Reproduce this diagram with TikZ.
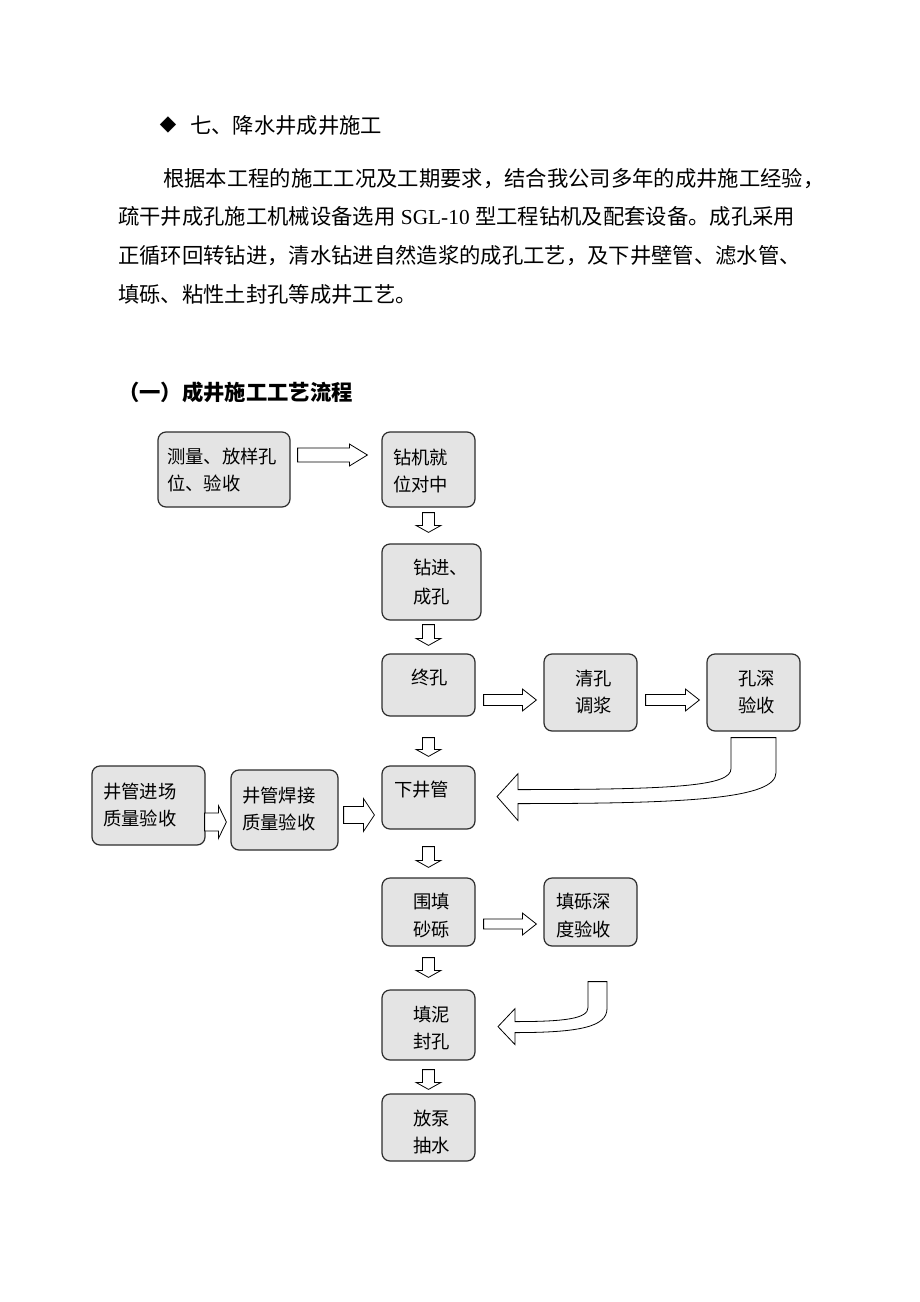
\documentclass[tikz,border=0pt]{standalone}
\usepackage{fontspec}
\setmainfont{Noto Sans CJK SC}
\newfontfamily\latserif{Liberation Serif}
\newfontfamily\dejavu{DejaVu Sans}
\usetikzlibrary{calc,fit}
\definecolor{boxfill}{RGB}{228,228,228}
\definecolor{boxline}{RGB}{45,45,45}
\tikzset{
  box/.style={draw=boxline, fill=boxfill, line width=0.9pt, rounded corners=6pt, inner sep=0pt},
  btxt/.style={anchor=west, inner sep=0pt, font=\fontsize{13.75pt}{16pt}\selectfont, text height=12.1pt, text depth=1.65pt},
  para/.style={anchor=west, inner sep=0pt, font=\fontsize{16pt}{20pt}\selectfont, text height=14.08pt, text depth=1.92pt},
  barrow/.style={draw=black, fill=white, line width=0.6pt, line join=miter},
}
\newcommand\harr[5]{\draw[barrow] ($(#1)+(0,-#3)$) -- ($(#2)+(-#5,-#3)$) -- ($(#2)+(-#5,-#4)$) -- (#2) -- ($(#2)+(-#5,#4)$) -- ($(#2)+(-#5,#3)$) -- ($(#1)+(0,#3)$) -- cycle;}
\newcommand\varr[5]{\draw[barrow] ($(#1)+(-#3,0)$) -- ($(#2)+(-#3,-#5)$) -- ($(#2)+(-#4,-#5)$) -- (#2) -- ($(#2)+(#4,-#5)$) -- ($(#2)+(#3,-#5)$) -- ($(#1)+(#3,0)$) -- cycle;}
\begin{document}
\begin{tikzpicture}[x=0.75pt,y=-0.75pt]
\useasboundingbox (0,0) rectangle (920,1302);
\fill[white] (0,0) rectangle (920,1302);

% header and paragraph
\node[anchor=center, inner sep=0pt, font=\dejavu\fontsize{16pt}{18pt}\selectfont] (dia) at (168,125) {◆};
\node[para] (h1) at (190,125) {七、降水井成井施工};
\node[para] (p1) at (163,178) {根据本工程的施工工况及工期要求，结合我公司多年的成井施工经验，};
\node[para] (p2) at (118,216) {疏干井成孔施工机械设备选用{\latserif\ SGL-10\ }型工程钻机及配套设备。成孔采用};
\node[para] (p3) at (118,255) {正循环回转钻进，清水钻进自然造浆的成孔工艺，及下井壁管、滤水管、};
\node[para] (p4) at (118,294) {填砾、粘性土封孔等成井工艺。};
\node[para, font=\fontsize{16pt}{20pt}\selectfont\bfseries] (title) at (118,392) {（一）成井施工工艺流程};

% boxes
\node[box, fit={(158,432) (290,507)}] (b1) {};
\node[box, fit={(382,432) (475,507)}] (b2) {};
\node[box, fit={(382,544) (481,620)}] (b3) {};
\node[box, fit={(382,654) (475,716)}] (b4) {};
\node[box, fit={(544,654) (637,731)}] (b5) {};
\node[box, fit={(707,654) (800,731)}] (b6) {};
\node[box, fit={(382,766) (475,829)}] (b7) {};
\node[box, fit={(92,766) (205,845)}] (b8) {};
\node[box, fit={(231,770) (338,850)}] (b9) {};
\node[box, fit={(382,878) (475,946)}] (b10) {};
\node[box, fit={(544,878) (637,946)}] (b11) {};
\node[box, fit={(382,990) (475,1060)}] (b12) {};
\node[box, fit={(382,1094) (475,1161)}] (b13) {};

% box texts
\node[btxt] (t1a) at (167,457) {测量、放样孔};
\node[btxt] (t1b) at (167,484) {位、验收};
\node[btxt] (t2a) at (393,458) {钻机就};
\node[btxt] (t2b) at (393,485) {位对中};
\node[btxt] (t3a) at (413,568) {钻进、};
\node[btxt] (t3b) at (413,597) {成孔};
\node[btxt] (t4a) at (411,678) {终孔};
\node[btxt] (t5a) at (575,679) {清孔};
\node[btxt] (t5b) at (575,706) {调浆};
\node[btxt] (t6a) at (738,679) {孔深};
\node[btxt] (t6b) at (738,706) {验收};
\node[btxt] (t7a) at (394,790) {下井管};
\node[btxt] (t8a) at (103,792) {井管进场};
\node[btxt] (t8b) at (103,819) {质量验收};
\node[btxt] (t9a) at (242,796) {井管焊接};
\node[btxt] (t9b) at (242,823) {质量验收};
\node[btxt] (t10a) at (413,902) {围填};
\node[btxt] (t10b) at (413,930) {砂砾};
\node[btxt] (t11a) at (556,902) {填砾深};
\node[btxt] (t11b) at (556,930) {度验收};
\node[btxt] (t12a) at (413,1015) {填泥};
\node[btxt] (t12b) at (413,1042) {封孔};
\node[btxt] (t13a) at (413,1119) {放泵};
\node[btxt] (t13b) at (413,1146) {抽水};

% horizontal block arrows
\coordinate (h1s) at ($(b1.east |- 0,455)+(7,0)$);
\coordinate (h1t) at ($(b2.west |- 0,455)+(-14,0)$);
\harr{h1s}{h1t}{7}{11}{18}
\coordinate (h2s) at ($(b4.east |- 0,700)+(8,0)$);
\coordinate (h2t) at ($(b5.west |- 0,700)+(-7,0)$);
\harr{h2s}{h2t}{5.5}{11}{14}
\coordinate (h3s) at ($(b5.east |- 0,700)+(8,0)$);
\coordinate (h3t) at ($(b6.west |- 0,700)+(-7,0)$);
\harr{h3s}{h3t}{5.5}{11}{14}
\coordinate (h4s) at ($(b8.east |- 0,822)+(-1,0)$);
\coordinate (h4t) at ($(b9.west |- 0,822)+(-4,0)$);
\harr{h4s}{h4t}{9}{16.5}{8}
\coordinate (h5s) at ($(b9.east |- 0,815)+(5,0)$);
\coordinate (h5t) at ($(b7.west |- 0,815)+(-7,0)$);
\harr{h5s}{h5t}{8.5}{16.5}{11}
\coordinate (h6s) at ($(b10.east |- 0,924)+(8,0)$);
\coordinate (h6t) at ($(b11.west |- 0,924)+(-7,0)$);
\harr{h6s}{h6t}{5}{11}{14}

% vertical block arrows
\coordinate (d1s) at ($(b2.south)+(0,5)$);
\coordinate (d1t) at ($(b2.south |- b3.north)+(0,-11)$);
\varr{d1s}{d1t}{6}{12.5}{7}
\coordinate (d2s) at ($(b4.north |- b3.south)+(0,4)$);
\coordinate (d2t) at ($(b4.north)+(0,-8)$);
\varr{d2s}{d2t}{6}{12.5}{7}
\coordinate (d3s) at ($(b4.south)+(0,21)$);
\coordinate (d3t) at ($(b7.north)+(0,-9)$);
\varr{d3s}{d3t}{6}{12.5}{7}
\coordinate (d4s) at ($(b7.south)+(0,17)$);
\coordinate (d4t) at ($(b10.north)+(0,-10)$);
\varr{d4s}{d4t}{6}{12.5}{7}
\coordinate (d5s) at ($(b10.south)+(0,11)$);
\coordinate (d5t) at ($(b12.north)+(0,-12)$);
\varr{d5s}{d5t}{6}{12.5}{7}
\coordinate (d6s) at ($(b12.south)+(0,9)$);
\coordinate (d6t) at ($(b13.north)+(0,-4)$);
\varr{d6s}{d6t}{6}{12.5}{7}

% curved block arrows
\begin{scope}[shift={(b6.south)}]
\draw[barrow] (-22.5,6) -- (22.5,6) -- (22.5,41)
  .. controls (22.5,67) and (-63.5,72) .. (-235.5,72)
  -- (-235.5,89) -- (-256.5,65) -- (-235.5,42) -- (-235.5,58)
  .. controls (-73.5,58) and (-22.5,54) .. (-22.5,37) -- cycle;
\end{scope}
\begin{scope}[shift={(b11.south)}]
\draw[barrow] (-2.5,35) -- (16.5,35) -- (16.5,62)
  .. controls (16.5,80) and (-10.5,86) .. (-75.5,86)
  -- (-75.5,98) -- (-92.5,80) -- (-75.5,62) -- (-75.5,75)
  .. controls (-25.5,75) and (-2.5,72) .. (-2.5,61) -- cycle;
\end{scope}
\end{tikzpicture}
\end{document}
